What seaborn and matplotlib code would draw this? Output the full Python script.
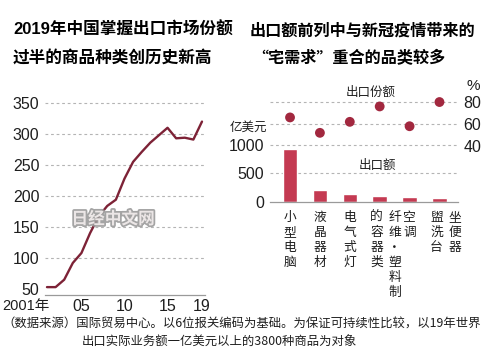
import numpy as np
import pandas as pd
import matplotlib
matplotlib.use('Agg')
import matplotlib.pyplot as plt
import matplotlib.patheffects as pe
import matplotlib.transforms as mtransforms
import seaborn as sns

# left chart: number of products with >50% world export share
years = list(range(2001, 2020))
counts = [53, 53, 65, 92, 108, 140, 167, 184, 194, 228, 255, 271, 286, 298, 310, 293, 294, 291, 320]
year_ticks = [2001, 2005, 2010, 2015, 2019]
year_labels = ['2001年', '05', '10', '15', '19']
count_ticks = [50, 100, 150, 200, 250, 300, 350]

# right chart: top export items overlapping "stay-at-home demand"
categories = ['小型电脑', '液晶器材', '电气式灯', '纤维·塑料制的容器类', '空调', '盥洗台坐便器']
label_columns = [['小型电脑'], ['液晶器材'], ['电气式灯'], ['纤维·塑料制', '的容器类'], ['空调'], ['坐便器', '盥洗台']]
export_value = [930, 218, 147, 100, 94, 76]   # 亿美元
export_share = [66, 52, 62, 76, 58, 80]       # %
value_ticks = [0, 500, 1000]
share_ticks = [40, 60, 80]

LINE = '#7d2236'
BAR = '#c43a52'
DOT = '#a2283f'
GRID = '#b4b4b4'
AXIS = '#9a9a9a'
TXT = '#1e1e1e'
CJK = ['Noto Sans CJK SC', 'DejaVu Sans']
MIXED = ['Liberation Sans', 'Noto Sans CJK SC', 'DejaVu Sans']

sns.set_theme(style='white')
plt.rcParams['font.family'] = MIXED

W, H = 490, 357
fig = plt.figure(figsize=(4.9, 3.57), dpi=100)


def box(x0, y0, x1, y1):
    # pixel box (top-left origin) -> figure fraction
    return [x0 / W, 1 - y1 / H, (x1 - x0) / W, (y1 - y0) / H]


def ftext(x, y, s, **kw):
    fig.text(x / W, 1 - y / H, s, **kw)


# ---- left chart ----
ax1 = fig.add_axes(box(45, 100, 205, 295))
df1 = pd.DataFrame({'year': years, 'count': counts})
sns.lineplot(data=df1, x='year', y='count', ax=ax1, color=LINE, linewidth=1.7)
ax1.set_xlim(2000.77, 2019.35)
ax1.set_ylim(40.3, 354.8)
ax1.set_xlabel('')
ax1.set_ylabel('')
ax1.set_yticks(count_ticks)
ax1.set_yticklabels([str(v) for v in count_ticks])
ax1.set_xticks(years)
ax1.set_xticklabels([year_labels[year_ticks.index(y)] if y in year_ticks else '' for y in years])
ax1.tick_params(axis='x', direction='in', length=4, width=0.8, color=AXIS, pad=3,
                labelsize=11.5, labelcolor=TXT)
ax1.tick_params(axis='y', length=0, pad=4, labelsize=11.5, labelcolor=TXT)
first = ax1.get_xticklabels()[0]
first.set_horizontalalignment('right')
first.set_fontsize(10.5)
first.set_transform(first.get_transform() +
                    mtransforms.ScaledTranslation(3 / 100, 0, fig.dpi_scale_trans))
ax1.yaxis.grid(True, color=GRID, linestyle=(0, (2.5, 2.5)), linewidth=0.8)
ax1.get_ygridlines()[0].set_visible(False)
for s in ['top', 'right', 'left']:
    ax1.spines[s].set_visible(False)
ax1.spines['bottom'].set_color(AXIS)
ax1.spines['bottom'].set_linewidth(0.9)

# ---- right chart ----
ax2 = fig.add_axes(box(270, 95, 458, 202))
df2 = pd.DataFrame({'pos': np.arange(len(categories)), 'value': export_value,
                    'share': export_share, 'item': categories})
sns.barplot(data=df2, x='pos', y='value', ax=ax2, color=BAR, saturation=1,
            width=0.485, native_scale=True)
ax2.set_xlim(-0.67, 5.62)
ax2.set_ylim(0, 1877)
ax2.set_xticks([])
ax2.set_xlabel('')
ax2.set_ylabel('')
ax2.set_yticks(value_ticks)
ax2.set_yticklabels([str(v) for v in value_ticks])
ax2.tick_params(axis='y', length=0, pad=4, labelsize=11.5, labelcolor=TXT)
ax2.set_axisbelow(True)
ax2.yaxis.grid(True, color=GRID, linestyle=(0, (2.5, 2.5)), linewidth=0.8)
ax2.get_ygridlines()[0].set_visible(False)
for s in ['top', 'right', 'left']:
    ax2.spines[s].set_visible(False)
ax2.spines['bottom'].set_color(AXIS)
ax2.spines['bottom'].set_linewidth(0.9)

ax3 = ax2.twinx()
sns.scatterplot(data=df2, x='pos', y='share', ax=ax3, color=DOT, s=50,
                edgecolor='none', zorder=5)
ax3.set_ylim(-10.9, 86.4)
ax3.set_xlim(-0.67, 5.62)
ax3.set_ylabel('')
ax3.set_yticks(share_ticks)
ax3.set_yticklabels([str(v) for v in share_ticks])
ax3.tick_params(axis='y', length=0, pad=4, labelsize=11.5, labelcolor=TXT)
ax3.yaxis.grid(True, color=GRID, linestyle=(0, (2.5, 2.5)), linewidth=0.8)
ax3.get_ygridlines()[0].set_visible(False)
for s in ax3.spines.values():
    s.set_visible(False)

# vertical category labels, one glyph per row, columns read right to left
for i, cols in enumerate(label_columns):
    offsets = [0] if len(cols) == 1 else [15, -3]
    for col, dx in zip(cols, offsets):
        for k, ch in enumerate(col):
            ax2.annotate(ch, xy=(i, 0), xycoords='data', xytext=(dx, -9 - 15 * k),
                         textcoords='offset pixels', ha='center', va='top',
                         fontsize=9.2, family=CJK, color=TXT, annotation_clip=False)

# right chart annotations
ftext(248, 127, '亿美元', ha='center', va='center', fontsize=9, family=CJK, color=TXT)
ftext(371, 92, '出口份额', ha='center', va='center', fontsize=9, family=CJK, color=TXT)
ftext(377, 165, '出口额', ha='center', va='center', fontsize=9, family=CJK, color=TXT)
ftext(473, 86, '%', ha='center', va='center', fontsize=11, color=TXT)

# titles
ftext(13, 30, '2019年中国掌握出口市场份额', ha='left', va='center', fontsize=12,
      family=MIXED, weight='bold', color='black')
ftext(13, 58, '过半的商品种类创历史新高', ha='left', va='center', fontsize=12,
      family=CJK, weight='bold', color='black')
ftext(250, 31, '出口额前列中与新冠疫情带来的', ha='left', va='center', fontsize=11.6,
      family=CJK, weight='bold', color='black')
ftext(252, 58, '“宅需求”重合的品类较多', ha='left', va='center', fontsize=11.6,
      family=CJK, weight='bold', color='black')

# source note
ftext(2, 324, '（数据来源）国际贸易中心。以6位报关编码为基础。为保证可持续性比较，以19年世界',
      ha='left', va='center', fontsize=8.9, family=CJK, color=TXT)
ftext(82, 342, '出口实际业务额一亿美元以上的3800种商品为对象',
      ha='left', va='center', fontsize=8.9, family=CJK, color=TXT)

# watermark
ftext(113, 219, '日经中文网', ha='center', va='center', fontsize=12, family=CJK,
      weight='bold', color='#f4eeee', alpha=0.9,
      path_effects=[pe.withStroke(linewidth=2.5, foreground='#9a9a9a')])

fig.savefig('out.png', dpi=100)
